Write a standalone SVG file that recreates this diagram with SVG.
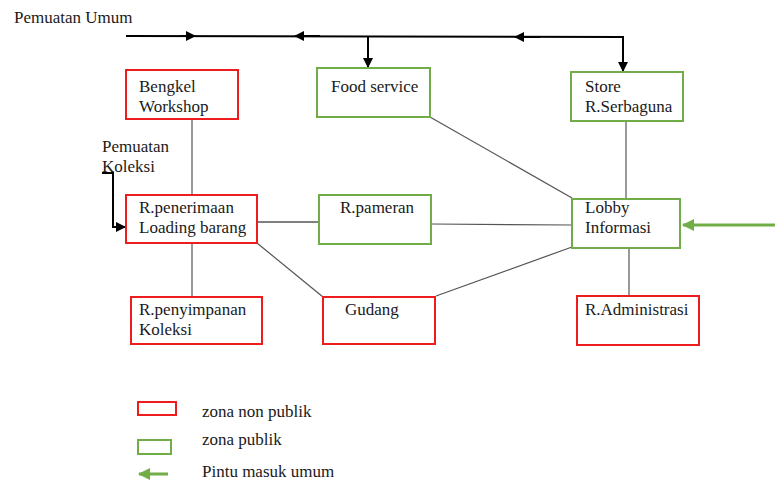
<svg xmlns="http://www.w3.org/2000/svg" width="775" height="483" viewBox="0 0 775 483">
<style>
text{font-family:'Liberation Serif','Tinos','DejaVu Serif','Noto Serif',serif;font-size:17px;fill:#1a1a1a}
.red{fill:#fff;stroke:#ee1c1c;stroke-width:2}
.green{fill:#fff;stroke:#70ad47;stroke-width:2}
.con{stroke:#555;stroke-width:1.2;fill:none}
.blk{stroke:#000;stroke-width:2;fill:none}
.garrow{stroke:#70ad47;stroke-width:3;fill:none}
</style>
<defs>
<marker id="ab" markerWidth="10" markerHeight="10" refX="9" refY="5" orient="auto" markerUnits="userSpaceOnUse"><path d="M0,0 L10,5 L0,10 z" fill="#000"/></marker>
<marker id="ag" markerWidth="12" markerHeight="12" refX="11" refY="6" orient="auto" markerUnits="userSpaceOnUse"><path d="M0,0 L12,6 L0,12 z" fill="#70ad47"/></marker>
</defs>
<g id="connectors">
<path class="blk" d="M126,36 L623,37 L623,72"/>
<path class="blk" d="M180,36 L195,36" marker-end="url(#ab)"/>
<path class="blk" d="M320,36 L295,36" marker-end="url(#ab)"/>
<path class="blk" d="M540,37 L515,37" marker-end="url(#ab)"/>
<path class="blk" d="M623,55 L623,71" marker-end="url(#ab)"/>
<path class="blk" d="M368,36 L368,67" marker-end="url(#ab)"/>
<path class="blk" d="M102,173 L113,173 L113,227 L125,227" marker-end="url(#ab)"/>
<path class="con" d="M192,119 L192,195"/>
<path class="con" d="M192,243 L192,297"/>
<path class="con" d="M257,222 L319,222" style="stroke:#000"/>
<path class="con" d="M431,224 L572,225"/>
<path class="con" d="M430,117 L572,198"/>
<path class="con" d="M626,121 L626,199"/>
<path class="con" d="M629,248 L629,296"/>
<path class="con" d="M257,243 L323,297"/>
<path class="con" d="M436,296 L572,247"/>
<path class="garrow" d="M775,225 L683,225" marker-end="url(#ag)"/>
</g>
<g id="pemuatan-umum"><text x="14" y="23">Pemuatan Umum</text></g>
<g id="pemuatan-koleksi"><text x="102" y="152">Pemuatan</text><text x="102" y="172">Koleksi</text></g>
<g id="bengkel"><rect class="red" x="126" y="70" width="112" height="49"/><text x="139" y="92">Bengkel</text><text x="139" y="112">Workshop</text></g>
<g id="food"><rect class="green" x="317" y="68" width="113" height="49"/><text x="331" y="92">Food service</text></g>
<g id="store"><rect class="green" x="571" y="72" width="112" height="49"/><text x="585" y="92">Store</text><text x="585" y="112">R.Serbaguna</text></g>
<g id="penerimaan"><rect class="red" x="126" y="195" width="131" height="48"/><text x="139" y="213">R.penerimaan</text><text x="139" y="233">Loading barang</text></g>
<g id="pameran"><rect class="green" x="319" y="195" width="112" height="49"/><text x="340" y="213">R.pameran</text></g>
<g id="lobby"><rect class="green" x="572" y="199" width="108" height="49"/><text x="585" y="213">Lobby</text><text x="585" y="233">Informasi</text></g>
<g id="penyimpanan"><rect class="red" x="131" y="297" width="131" height="47"/><text x="139" y="315">R.penyimpanan</text><text x="139" y="335">Koleksi</text></g>
<g id="gudang"><rect class="red" x="323" y="297" width="112" height="47"/><text x="345" y="315">Gudang</text></g>
<g id="admin"><rect class="red" x="577" y="296" width="122" height="49"/><text x="585" y="315">R.Administrasi</text></g>
<g id="legend">
<rect class="red" x="138" y="402" width="38" height="13"/>
<text x="202" y="417">zona non publik</text>
<rect class="green" x="138" y="440" width="33" height="14"/>
<text x="202" y="445">zona publik</text>
<path class="garrow" d="M168,474 L139,474" marker-end="url(#ag)"/>
<text x="202" y="477">Pintu masuk umum</text>
</g>
</svg>
